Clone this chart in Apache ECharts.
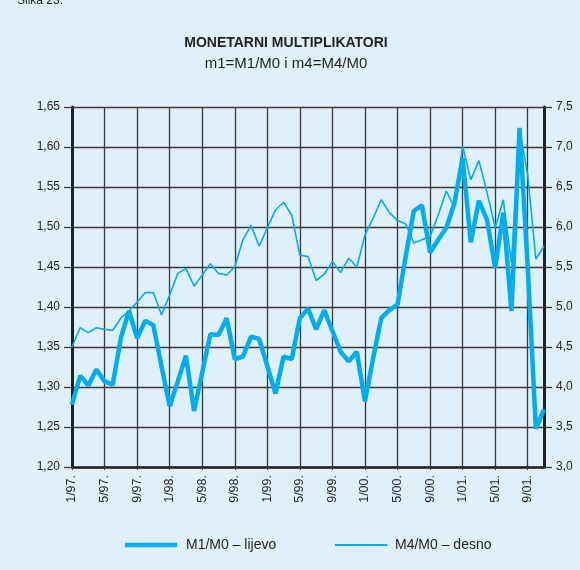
<!DOCTYPE html>
<html>
<head>
<meta charset="utf-8">
<script src="https://cdn.jsdelivr.net/npm/echarts@6/dist/echarts.min.js"></script>
<style>
  html, body { margin: 0; padding: 0; background: #dff0fa; }
  #chart { width: 580px; height: 570px; }
</style>
</head>
<body>
<div id="chart"></div>
<script>
// mjeseci 1/97 - 11/01
var months = [];
for (var y = 97; y <= 101; y++) {
    for (var m = 1; m <= 12; m++) {
        if (y === 101 && m > 11) break;
        months.push(m + '/' + String(y % 100).padStart(2, '0') + '.');
    }
}

// m1 = M1/M0 (lijeva os)
var m1 = [1.278, 1.314, 1.302, 1.322, 1.307, 1.303, 1.361, 1.395, 1.361, 1.383, 1.377, 1.326,
          1.276, 1.307, 1.339, 1.270, 1.318, 1.366, 1.365, 1.386, 1.335, 1.338, 1.363, 1.360,
          1.326, 1.292, 1.338, 1.335, 1.386, 1.398, 1.372, 1.396, 1.370, 1.344, 1.332, 1.344,
          1.282, 1.336, 1.386, 1.396, 1.403, 1.463, 1.520, 1.527, 1.468, 1.484, 1.499, 1.530,
          1.586, 1.481, 1.533, 1.509, 1.449, 1.518, 1.395, 1.624, 1.450, 1.248, 1.272];

// m4 = M4/M0 (desna os)
var m4 = [4.50, 4.74, 4.68, 4.74, 4.72, 4.71, 4.86, 4.95, 5.06, 5.18, 5.18, 4.90,
          5.15, 5.42, 5.48, 5.26, 5.40, 5.54, 5.42, 5.40, 5.50, 5.84, 6.02, 5.76,
          5.99, 6.21, 6.31, 6.15, 5.65, 5.63, 5.33, 5.41, 5.57, 5.43, 5.61, 5.50,
          5.90, 6.11, 6.34, 6.18, 6.08, 6.04, 5.80, 5.84, 5.88, 6.15, 6.45, 6.24,
          7.01, 6.59, 6.83, 6.43, 5.99, 6.34, 5.55, 7.22, 6.65, 5.60, 5.76];

var seriesNames = ['M1/M0 – lijevo', 'M4/M0 – desno'];

var lineColor = '#00aeef';
var gridColor = '#3a3a3a';
var textColor = '#231f20';

var myChart = echarts.init(document.getElementById('chart'));

var option = {
    backgroundColor: '#dff0fa',
    textStyle: { fontFamily: 'Liberation Sans, Arial, sans-serif' },
    title: [{
        text: 'MONETARNI MULTIPLIKATORI',
        left: 281,
        top: 31,
        textAlign: 'center',
        textStyle: { fontSize: 14, fontWeight: 'bold', color: textColor }
    }, {
        text: 'm1=M1/M0 i m4=M4/M0',
        left: 281,
        top: 51,
        textAlign: 'center',
        textStyle: { fontSize: 15, fontWeight: 'normal', color: textColor }
    }, {
        text: 'Slika 23.',
        left: 12,
        top: -10,
        textStyle: { fontSize: 12, fontWeight: 'normal', color: textColor }
    }],
    // legenda crtana rucno (debela i tanka linija)
    graphic: [
        { type: 'line', shape: { x1: 125, y1: 545, x2: 177, y2: 545 },
          style: { stroke: lineColor, lineWidth: 4.5 } },
        { type: 'text', left: 186, top: 538,
          style: { text: seriesNames[0], fontSize: 14, fill: textColor,
                   fontFamily: 'Liberation Sans, Arial, sans-serif' } },
        { type: 'line', shape: { x1: 335, y1: 545, x2: 387, y2: 545 },
          style: { stroke: lineColor, lineWidth: 1.8 } },
        { type: 'text', left: 395, top: 538,
          style: { text: seriesNames[1], fontSize: 14, fill: textColor,
                   fontFamily: 'Liberation Sans, Arial, sans-serif' } }
    ],
    grid: { left: 72, right: 36, top: 107, bottom: 103 },
    xAxis: {
        type: 'category',
        data: months,
        boundaryGap: false,
        axisLine: { lineStyle: { color: '#222', width: 2.5 } },
        axisTick: { show: true, interval: 3, length: 3, lineStyle: { color: gridColor } },
        axisLabel: { interval: 3, rotate: 90, fontSize: 12.5, color: textColor, margin: 8 },
        splitLine: { show: true, interval: 3, lineStyle: { color: gridColor, width: 1.3 } }
    },
    yAxis: [{
        type: 'value',
        min: 1.2,
        max: 1.65,
        interval: 0.05,
        axisLine: { show: true, lineStyle: { color: '#222', width: 3 } },
        axisTick: { show: true, length: 8, lineStyle: { color: gridColor, width: 1.3 } },
        axisLabel: {
            fontSize: 12, color: textColor, margin: 12,
            formatter: function (v) { return v.toFixed(2).replace('.', ','); }
        },
        splitLine: { lineStyle: { color: gridColor, width: 1.3 } }
    }, {
        type: 'value',
        min: 3,
        max: 7.5,
        interval: 0.5,
        axisLine: { show: true, lineStyle: { color: '#222', width: 3 } },
        axisTick: { show: true, length: 8, lineStyle: { color: gridColor, width: 1.3 } },
        axisLabel: {
            fontSize: 12, color: textColor, margin: 12,
            formatter: function (v) { return v.toFixed(1).replace('.', ','); }
        },
        splitLine: { show: false }
    }],
    series: [{
        name: seriesNames[0],
        type: 'line',
        yAxisIndex: 0,
        data: m1,
        symbol: 'none',
        color: lineColor,
        lineStyle: { width: 4.5, color: lineColor }
    }, {
        name: seriesNames[1],
        type: 'line',
        yAxisIndex: 1,
        data: m4,
        symbol: 'none',
        color: lineColor,
        lineStyle: { width: 1.6, color: lineColor }
    }]
};

myChart.setOption(option);
</script>
</body>
</html>
